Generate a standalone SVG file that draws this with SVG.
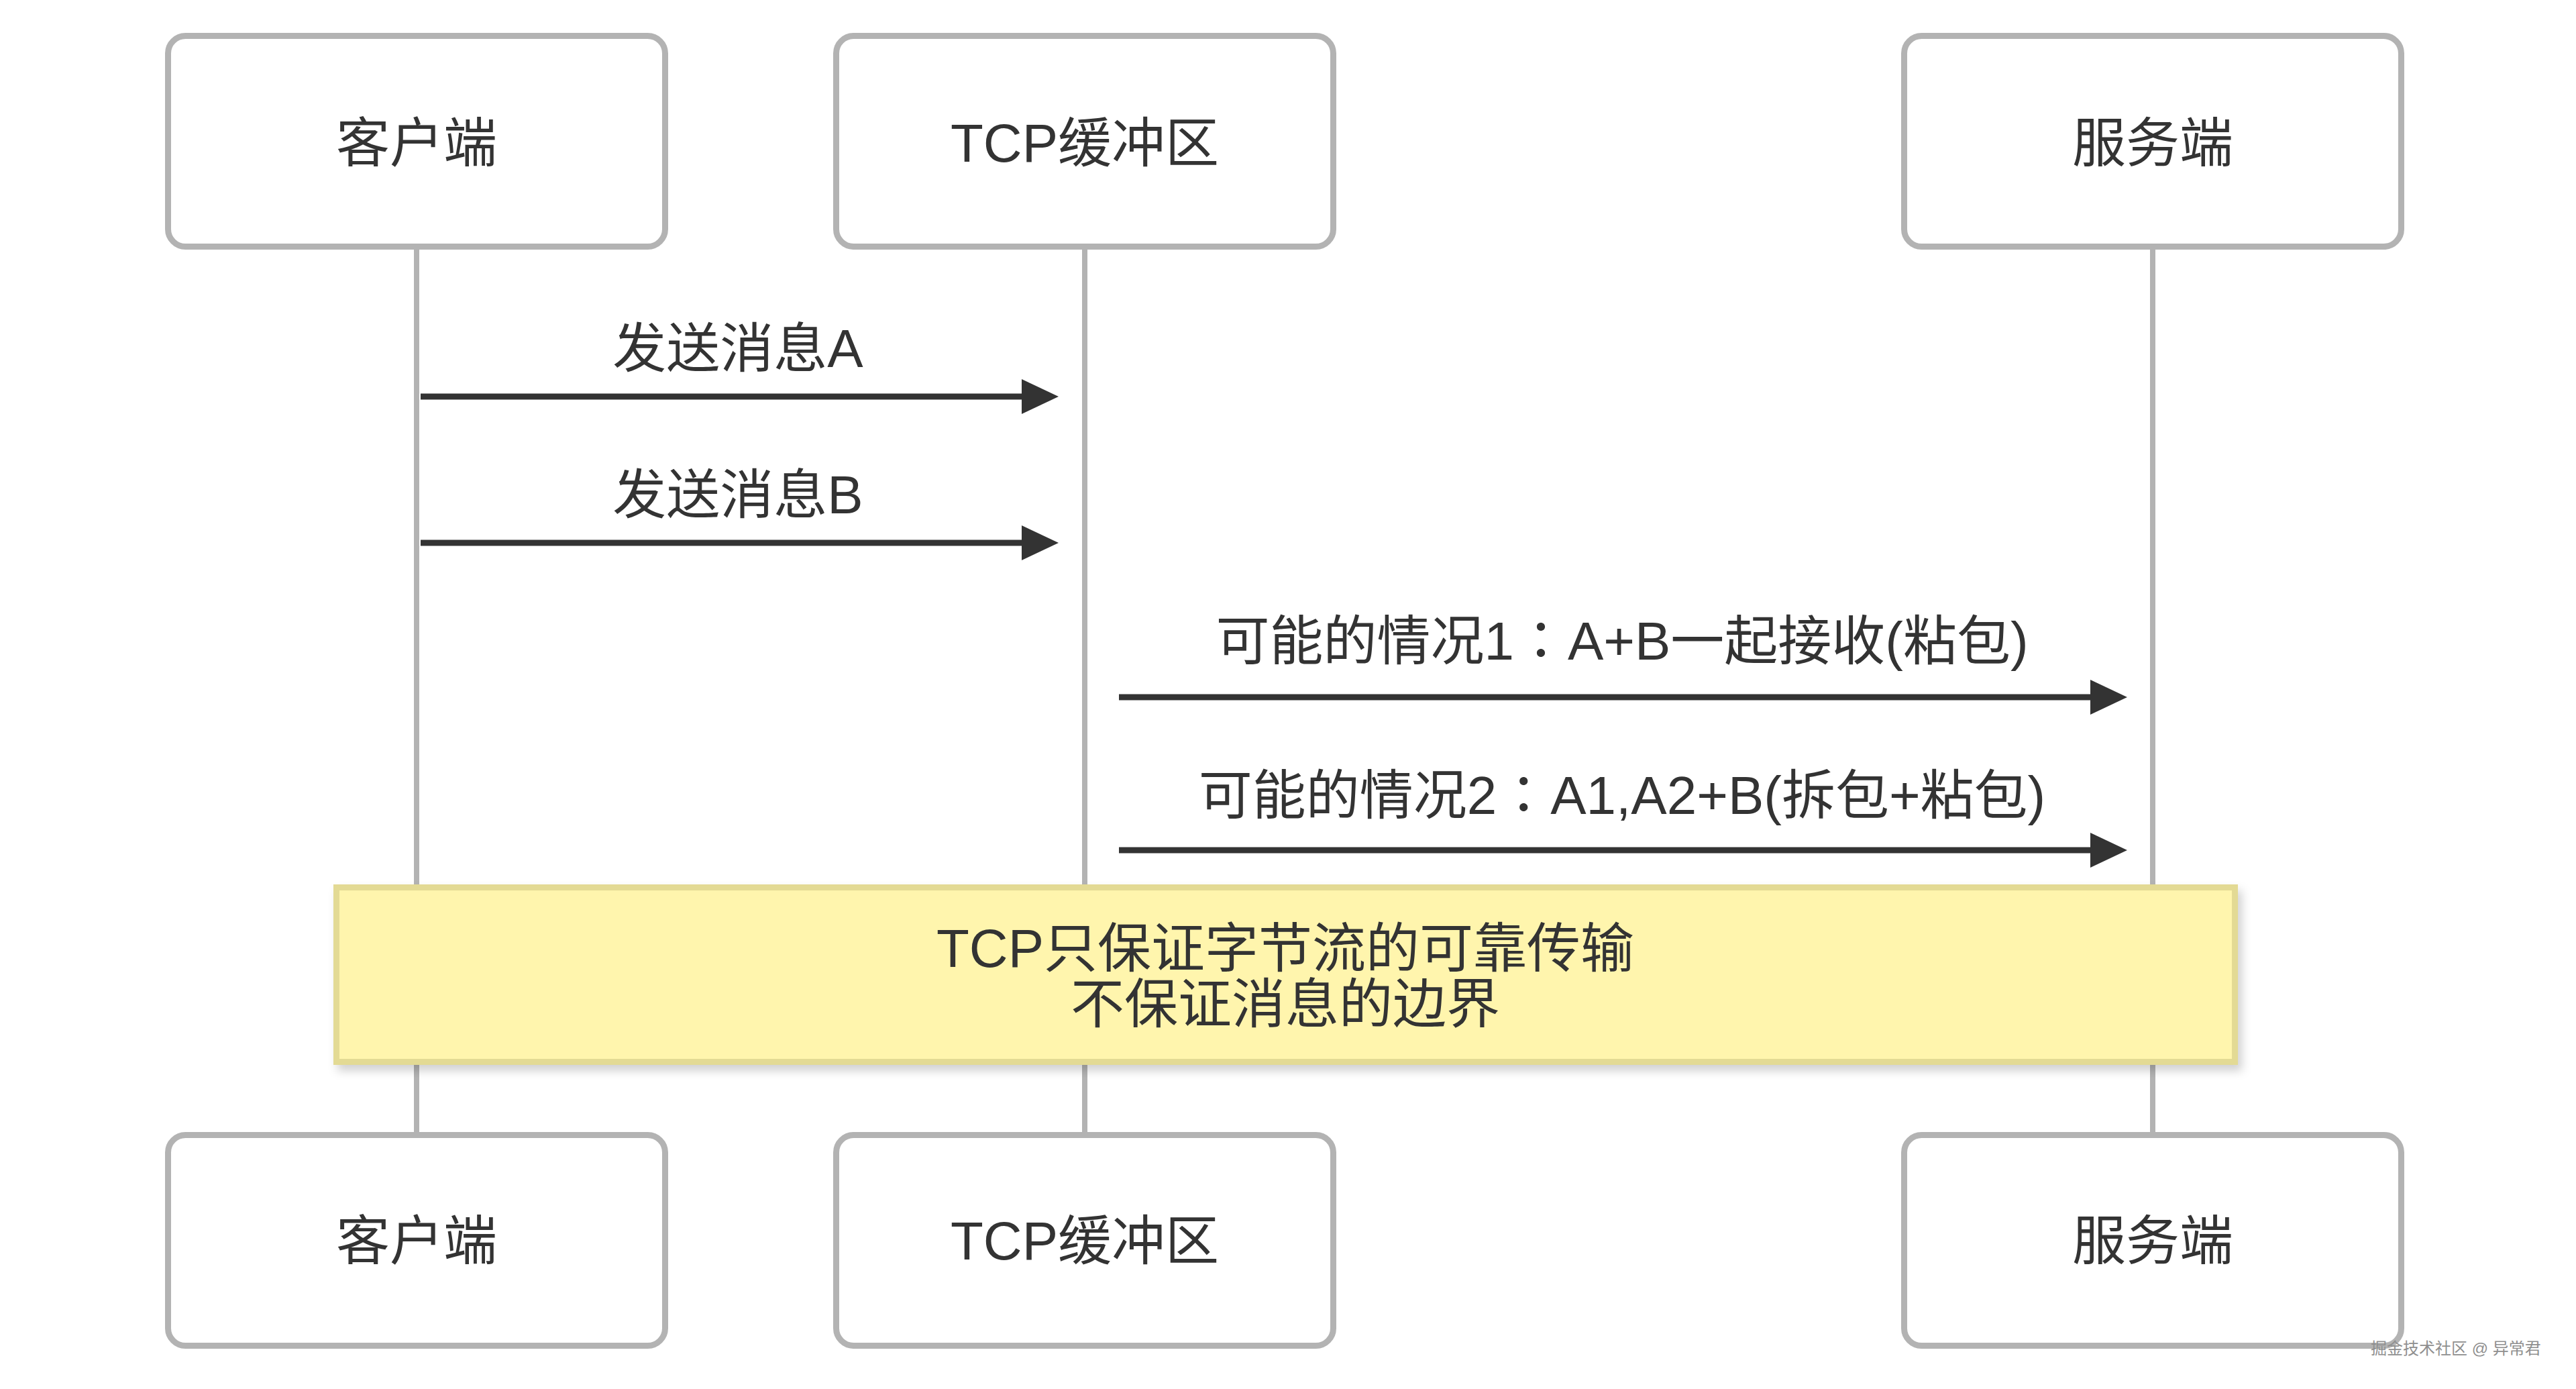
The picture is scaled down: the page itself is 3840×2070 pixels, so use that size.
<svg xmlns="http://www.w3.org/2000/svg" width="3840" height="2070" viewBox="0 0 3840 2070">
<style>
.box{fill:#ffffff;stroke:#b3b3b3;stroke-width:9}
.life{stroke:#b3b3b3;stroke-width:8;fill:none}
.msg{stroke:#333333;stroke-width:9;fill:none}
.head{fill:#333333}
.t{font-family:"Liberation Sans","Noto Sans CJK SC",sans-serif;font-size:80px;fill:#333333;text-anchor:middle}
.colon{font-family:"Noto Sans CJK TC",sans-serif}
.note{fill:#fff5ad;stroke:#e3da94;stroke-width:9}
.wm{font-family:"Liberation Sans","Noto Sans CJK SC",sans-serif;font-size:24px;fill:#8f8f8f}
</style>
<defs>
<filter id="sh" x="-5%" y="-20%" width="110%" height="150%">
<feDropShadow dx="6" dy="9" stdDeviation="7" flood-color="#000" flood-opacity="0.18"/>
</filter>
</defs>
<rect width="3840" height="2070" fill="#ffffff"/>
<g id="lifelines">
<line class="life" x1="621" y1="372" x2="621" y2="1688"/>
<line class="life" x1="1617" y1="372" x2="1617" y2="1688"/>
<line class="life" x1="3209" y1="372" x2="3209" y2="1688"/>
</g>
<g id="client-top"><rect class="box" x="250.5" y="53.5" width="741" height="314" rx="26"/><text class="t" x="621" y="241">客户端</text></g>
<g id="tcp-top"><rect class="box" x="1246.5" y="53.5" width="741" height="314" rx="26"/><text class="t" x="1617" y="241">TCP缓冲区</text></g>
<g id="server-top"><rect class="box" x="2838.5" y="53.5" width="741" height="314" rx="26"/><text class="t" x="3209" y="241">服务端</text></g>
<g id="client-bottom"><rect class="box" x="250.5" y="1691.5" width="741" height="314" rx="26"/><text class="t" x="621" y="1877">客户端</text></g>
<g id="tcp-bottom"><rect class="box" x="1246.5" y="1691.5" width="741" height="314" rx="26"/><text class="t" x="1617" y="1877">TCP缓冲区</text></g>
<g id="server-bottom"><rect class="box" x="2838.5" y="1691.5" width="741" height="314" rx="26"/><text class="t" x="3209" y="1877">服务端</text></g>
<g id="connectors">
<line class="msg" x1="627" y1="591" x2="1526" y2="591"/>
<polygon class="head" points="1523,565 1578,591 1523,617"/>
<text class="t" x="1100" y="547">发送消息A</text>
<line class="msg" x1="627" y1="809" x2="1526" y2="809"/>
<polygon class="head" points="1523,783 1578,809 1523,835"/>
<text class="t" x="1100" y="765">发送消息B</text>
<line class="msg" x1="1668" y1="1039" x2="3119" y2="1039"/>
<polygon class="head" points="3116,1013 3171,1039 3116,1065"/>
<text class="t" x="2418" y="983">可能的情况1<tspan class="colon">：</tspan>A+B一起接收(粘包)</text>
<line class="msg" x1="1668" y1="1267" x2="3119" y2="1267"/>
<polygon class="head" points="3116,1241 3171,1267 3116,1293"/>
<text class="t" x="2418" y="1213">可能的情况2<tspan class="colon">：</tspan>A1,A2+B(拆包+粘包)</text>
</g>
<g id="note">
<rect class="note" x="501.5" y="1322.5" width="2830" height="260" filter="url(#sh)"/>
<text class="t" x="1916" y="1441">TCP只保证字节流的可靠传输</text>
<text class="t" x="1916" y="1524">不保证消息的边界</text>
</g>
<text class="wm" x="3534" y="2018">掘金技术社区 @ 异常君</text>
</svg>
